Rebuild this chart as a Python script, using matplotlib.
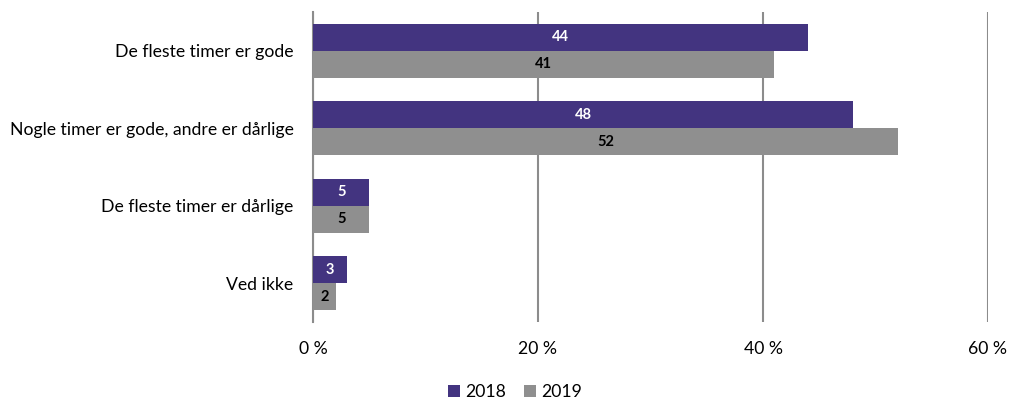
import matplotlib
matplotlib.use("Agg")
import matplotlib.pyplot as plt
import numpy as np

categories = ["De fleste timer er gode", "Nogle timer er gode, andre er dårlige",
              "De fleste timer er dårlige", "Ved ikke"]
values_2018 = [44, 48, 5, 3]
values_2019 = [41, 52, 5, 2]
series_names = ["2018", "2019"]
xticks = [0, 20, 40, 60]
xtick_labels = ["0 %", "20 %", "40 %", "60 %"]

plt.rcParams['font.family'] = ['Lato', 'DejaVu Sans']

fig = plt.figure(figsize=(10.11, 4.01), dpi=100)
ax = fig.add_axes([313/1011, 1-322/401, (988-313)/1011, (322-12)/401])

c18 = "#433480"
c19 = "#8f8f8f"
h = 0.35
y = np.arange(len(categories))
b1 = ax.barh(y - h/2, values_2018, height=h, color=c18, label=series_names[0], zorder=3)
b2 = ax.barh(y + h/2, values_2019, height=h, color=c19, label=series_names[1], zorder=3)

for rect, v in zip(b1, values_2018):
    ax.text(rect.get_width()/2, rect.get_y()+rect.get_height()/2, str(v),
            ha="center", va="center", color="white", fontsize=10.5, fontweight="bold", zorder=4)
for rect, v in zip(b2, values_2019):
    ax.text(rect.get_width()/2, rect.get_y()+rect.get_height()/2, str(v),
            ha="center", va="center", color="black", fontsize=10.5, fontweight="bold", zorder=4)

ax.set_ylim(len(categories)-0.5, -0.5)
ax.set_xlim(0, 60)
ax.set_xticks(xticks)
ax.set_xticklabels(xtick_labels, fontsize=12.7)
ax.set_yticks(y)
ax.set_yticklabels(categories, fontsize=12.7)
ax.tick_params(axis="both", length=0)
ax.tick_params(axis="x", pad=14)
ax.tick_params(axis="y", pad=14)
ax.xaxis.grid(True, color="#8c8c8c", linewidth=1.5, zorder=0)
for s in ["top", "right", "bottom"]:
    ax.spines[s].set_visible(False)
ax.spines["left"].set_color("#8c8c8c")
ax.spines["left"].set_linewidth(1.5)

fig.legend(handles=[b1, b2], labels=series_names, loc="center", bbox_to_anchor=(515/1011, 1-392/401),
           ncol=2, frameon=False, fontsize=12.7, handlelength=0.7, handleheight=0.7,
           handletextpad=0.3, columnspacing=1.0)

fig.savefig("out.png", dpi=100)
